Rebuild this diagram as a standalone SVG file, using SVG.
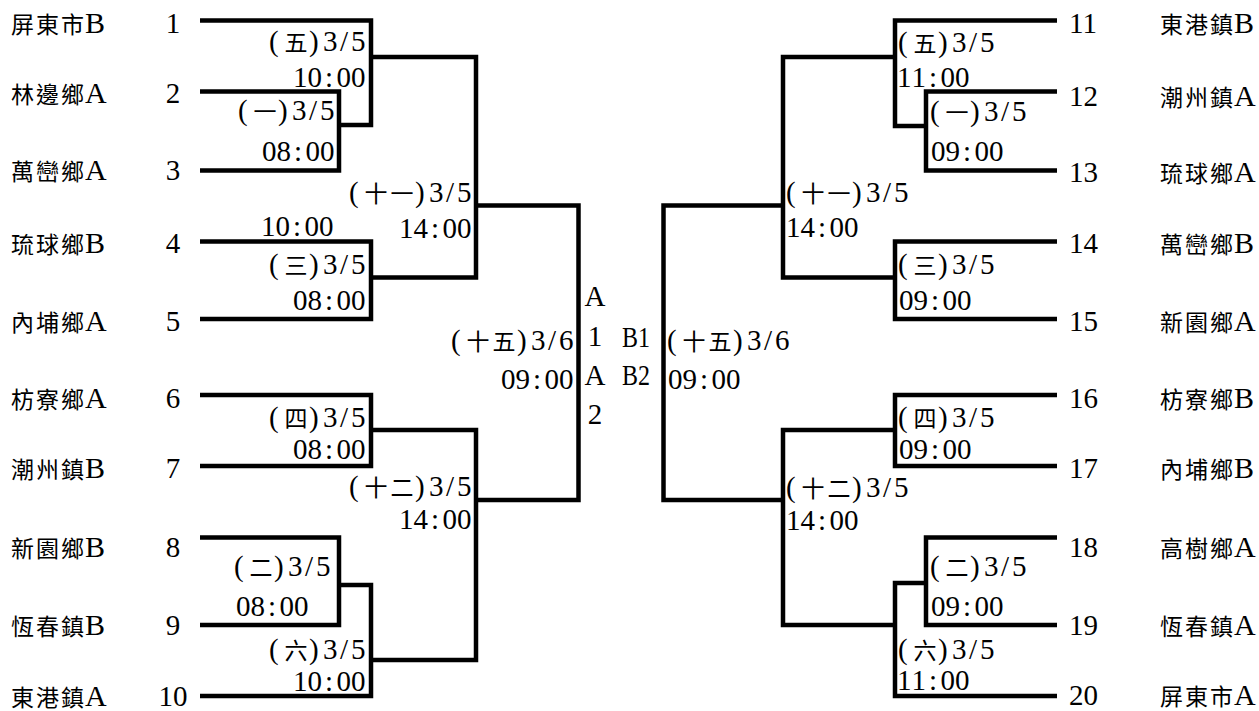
<svg xmlns="http://www.w3.org/2000/svg" width="1259" height="711" viewBox="0 0 1259 711">
<style>
.t{font-size:29px;fill:#000}
.c{font-size:23px}
.nm{font-size:23px;fill:#000}
.l{font-size:30px}
.mid{text-anchor:middle}
.ln{fill:none;stroke:#000;stroke-width:4.5;stroke-linejoin:miter;stroke-linecap:butt}
</style>
<rect width="1259" height="711" fill="#fff"/>
<g id="connectors" class="ln">
<path d="M200,20.5H371V125H339"/>
<path d="M200,91.5H339V170.5H200"/>
<path d="M200,241.5H371V319H200"/>
<path d="M200,395H371V466H200"/>
<path d="M200,537.5H339V625H200"/>
<path d="M200,696H371V585H339"/>
<path d="M371,57H476V277.5H371"/>
<path d="M371,430H476V660H371"/>
<path d="M476,205.5H578.5V500H476"/>
<path d="M1057,20.5H895V126H926"/>
<path d="M1057,91.5H926V170.5H1057"/>
<path d="M1057,241.5H895V319H1057"/>
<path d="M1057,395H895V466H1057"/>
<path d="M1057,537.5H926V625H1057"/>
<path d="M1057,696H895V583H926"/>
<path d="M895,57H783V277.5H895"/>
<path d="M895,430H783V625H895"/>
<path d="M783,205.5H663.5V500H783"/>
</g>
<g id="team1"><text class="nm" font-family="Noto Sans CJK TC" x="11 36 61 85" y="33">屏東市<tspan class="l" font-family="Liberation Serif">B</tspan></text><text class="t mid" font-family="Liberation Serif" x="173" y="33">1</text></g>
<g id="team2"><text class="nm" font-family="Noto Sans CJK TC" x="11 36 61 85" y="103">林邊鄉<tspan class="l" font-family="Liberation Serif">A</tspan></text><text class="t mid" font-family="Liberation Serif" x="173" y="103">2</text></g>
<g id="team3"><text class="nm" font-family="Noto Sans CJK TC" x="11 36 61 85" y="180">萬巒鄉<tspan class="l" font-family="Liberation Serif">A</tspan></text><text class="t mid" font-family="Liberation Serif" x="173" y="180">3</text></g>
<g id="team4"><text class="nm" font-family="Noto Sans CJK TC" x="11 36 61 85" y="253">琉球鄉<tspan class="l" font-family="Liberation Serif">B</tspan></text><text class="t mid" font-family="Liberation Serif" x="173" y="253">4</text></g>
<g id="team5"><text class="nm" font-family="Noto Sans CJK TC" x="11 36 61 85" y="331">內埔鄉<tspan class="l" font-family="Liberation Serif">A</tspan></text><text class="t mid" font-family="Liberation Serif" x="173" y="331">5</text></g>
<g id="team6"><text class="nm" font-family="Noto Sans CJK TC" x="11 36 61 85" y="408">枋寮鄉<tspan class="l" font-family="Liberation Serif">A</tspan></text><text class="t mid" font-family="Liberation Serif" x="173" y="408">6</text></g>
<g id="team7"><text class="nm" font-family="Noto Sans CJK TC" x="11 36 61 85" y="478">潮州鎮<tspan class="l" font-family="Liberation Serif">B</tspan></text><text class="t mid" font-family="Liberation Serif" x="173" y="478">7</text></g>
<g id="team8"><text class="nm" font-family="Noto Sans CJK TC" x="11 36 61 85" y="557">新園鄉<tspan class="l" font-family="Liberation Serif">B</tspan></text><text class="t mid" font-family="Liberation Serif" x="173" y="557">8</text></g>
<g id="team9"><text class="nm" font-family="Noto Sans CJK TC" x="11 36 61 85" y="635">恆春鎮<tspan class="l" font-family="Liberation Serif">B</tspan></text><text class="t mid" font-family="Liberation Serif" x="173" y="635">9</text></g>
<g id="team10"><text class="nm" font-family="Noto Sans CJK TC" x="11 36 61 85" y="706">東港鎮<tspan class="l" font-family="Liberation Serif">A</tspan></text><text class="t mid" font-family="Liberation Serif" x="173" y="706">10</text></g>
<g id="team11"><text class="t" font-family="Liberation Serif" x="1069" y="33">11</text><text class="nm" font-family="Noto Sans CJK TC" x="1160 1185 1210 1234" y="33">東港鎮<tspan class="l" font-family="Liberation Serif">B</tspan></text></g>
<g id="team12"><text class="t" font-family="Liberation Serif" x="1069" y="106">12</text><text class="nm" font-family="Noto Sans CJK TC" x="1160 1185 1210 1234" y="106">潮州鎮<tspan class="l" font-family="Liberation Serif">A</tspan></text></g>
<g id="team13"><text class="t" font-family="Liberation Serif" x="1069" y="182">13</text><text class="nm" font-family="Noto Sans CJK TC" x="1160 1185 1210 1234" y="182">琉球鄉<tspan class="l" font-family="Liberation Serif">A</tspan></text></g>
<g id="team14"><text class="t" font-family="Liberation Serif" x="1069" y="253">14</text><text class="nm" font-family="Noto Sans CJK TC" x="1160 1185 1210 1234" y="253">萬巒鄉<tspan class="l" font-family="Liberation Serif">B</tspan></text></g>
<g id="team15"><text class="t" font-family="Liberation Serif" x="1069" y="331">15</text><text class="nm" font-family="Noto Sans CJK TC" x="1160 1185 1210 1234" y="331">新園鄉<tspan class="l" font-family="Liberation Serif">A</tspan></text></g>
<g id="team16"><text class="t" font-family="Liberation Serif" x="1069" y="408">16</text><text class="nm" font-family="Noto Sans CJK TC" x="1160 1185 1210 1234" y="408">枋寮鄉<tspan class="l" font-family="Liberation Serif">B</tspan></text></g>
<g id="team17"><text class="t" font-family="Liberation Serif" x="1069" y="478">17</text><text class="nm" font-family="Noto Sans CJK TC" x="1160 1185 1210 1234" y="478">內埔鄉<tspan class="l" font-family="Liberation Serif">B</tspan></text></g>
<g id="team18"><text class="t" font-family="Liberation Serif" x="1069" y="557">18</text><text class="nm" font-family="Noto Sans CJK TC" x="1160 1185 1210 1234" y="557">高樹鄉<tspan class="l" font-family="Liberation Serif">A</tspan></text></g>
<g id="team19"><text class="t" font-family="Liberation Serif" x="1069" y="635">19</text><text class="nm" font-family="Noto Sans CJK TC" x="1160 1185 1210 1234" y="635">恆春鎮<tspan class="l" font-family="Liberation Serif">A</tspan></text></g>
<g id="team20"><text class="t" font-family="Liberation Serif" x="1069" y="705">20</text><text class="nm" font-family="Noto Sans CJK TC" x="1160 1185 1210 1234" y="705">屏東市<tspan class="l" font-family="Liberation Serif">A</tspan></text></g>
<g id="L5"><text class="t" font-family="Liberation Serif" x="269 284.5 309 323 340 351" y="51">(<tspan class="c" font-family="Noto Sans CJK TC">五</tspan>)3/5</text><text class="t" font-family="Liberation Serif" x="293 307.5 325 336.5 351" y="87">10:00</text></g>
<g id="L1"><text class="t" font-family="Liberation Serif" x="238 253.5 278 292 309 320" y="120">(<tspan class="c" font-family="Noto Sans CJK TC">一</tspan>)3/5</text><text class="t" font-family="Liberation Serif" x="262 276.5 294 305.5 320" y="161">08:00</text></g>
<g id="L11"><text class="t" font-family="Liberation Serif" x="349 364.5 390.5 415 429 446 457" y="202">(<tspan class="c" font-family="Noto Sans CJK TC">十一</tspan>)3/5</text><text class="t" font-family="Liberation Serif" x="399 413.5 431 442.5 457" y="238">14:00</text></g>
<g id="Lx"><text class="t" font-family="Liberation Serif" x="261 275.5 293 304.5 319" y="236">10:00</text></g>
<g id="L3"><text class="t" font-family="Liberation Serif" x="269 284.5 309 323 340 351" y="274">(<tspan class="c" font-family="Noto Sans CJK TC">三</tspan>)3/5</text><text class="t" font-family="Liberation Serif" x="293 307.5 325 336.5 351" y="310">08:00</text></g>
<g id="L4"><text class="t" font-family="Liberation Serif" x="269 284.5 309 323 340 351" y="427">(<tspan class="c" font-family="Noto Sans CJK TC">四</tspan>)3/5</text><text class="t" font-family="Liberation Serif" x="293 307.5 325 336.5 351" y="459">08:00</text></g>
<g id="L12"><text class="t" font-family="Liberation Serif" x="349 364.5 390.5 415 429 446 457" y="496">(<tspan class="c" font-family="Noto Sans CJK TC">十二</tspan>)3/5</text><text class="t" font-family="Liberation Serif" x="399 413.5 431 442.5 457" y="529">14:00</text></g>
<g id="L2"><text class="t" font-family="Liberation Serif" x="234 249.5 274 288 305 316" y="576">(<tspan class="c" font-family="Noto Sans CJK TC">二</tspan>)3/5</text><text class="t" font-family="Liberation Serif" x="236 250.5 268 279.5 294" y="616">08:00</text></g>
<g id="L6"><text class="t" font-family="Liberation Serif" x="269 284.5 309 323 340 351" y="659">(<tspan class="c" font-family="Noto Sans CJK TC">六</tspan>)3/5</text><text class="t" font-family="Liberation Serif" x="293 307.5 325 336.5 351" y="691">10:00</text></g>
<g id="L15"><text class="t" font-family="Liberation Serif" x="451 466.5 492.5 517 531 548 559" y="350">(<tspan class="c" font-family="Noto Sans CJK TC">十五</tspan>)3/6</text><text class="t" font-family="Liberation Serif" x="501 515.5 533 544.5 559" y="389">09:00</text></g>
<g id="final"><text class="t mid" font-family="Liberation Serif" x="595" y="306">A</text><text class="t mid" font-family="Liberation Serif" x="595" y="346">1</text><text class="t mid" font-family="Liberation Serif" x="595" y="385">A</text><text class="t mid" font-family="Liberation Serif" x="595" y="424">2</text><text class="t" font-family="Liberation Serif" x="622" y="347" textLength="28" lengthAdjust="spacingAndGlyphs">B1</text><text class="t" font-family="Liberation Serif" x="622" y="385" textLength="28" lengthAdjust="spacingAndGlyphs">B2</text></g>
<g id="R15"><text class="t" font-family="Liberation Serif" x="667 682.5 708.5 733 747 764 775" y="350">(<tspan class="c" font-family="Noto Sans CJK TC">十五</tspan>)3/6</text><text class="t" font-family="Liberation Serif" x="668 682.5 700 711.5 726" y="389">09:00</text></g>
<g id="R5"><text class="t" font-family="Liberation Serif" x="898 913.5 938 952 969 980" y="52">(<tspan class="c" font-family="Noto Sans CJK TC">五</tspan>)3/5</text><text class="t" font-family="Liberation Serif" x="897 911.5 929 940.5 955" y="87">11:00</text></g>
<g id="R1"><text class="t" font-family="Liberation Serif" x="930 945.5 970 984 1001 1012" y="121">(<tspan class="c" font-family="Noto Sans CJK TC">一</tspan>)3/5</text><text class="t" font-family="Liberation Serif" x="931 945.5 963 974.5 989" y="161">09:00</text></g>
<g id="R11"><text class="t" font-family="Liberation Serif" x="786 801.5 827.5 852 866 883 894" y="202">(<tspan class="c" font-family="Noto Sans CJK TC">十一</tspan>)3/5</text><text class="t" font-family="Liberation Serif" x="786 800.5 818 829.5 844" y="237">14:00</text></g>
<g id="R3"><text class="t" font-family="Liberation Serif" x="898 913.5 938 952 969 980" y="274">(<tspan class="c" font-family="Noto Sans CJK TC">三</tspan>)3/5</text><text class="t" font-family="Liberation Serif" x="899 913.5 931 942.5 957" y="310">09:00</text></g>
<g id="R4"><text class="t" font-family="Liberation Serif" x="898 913.5 938 952 969 980" y="427">(<tspan class="c" font-family="Noto Sans CJK TC">四</tspan>)3/5</text><text class="t" font-family="Liberation Serif" x="899 913.5 931 942.5 957" y="459">09:00</text></g>
<g id="R12"><text class="t" font-family="Liberation Serif" x="786 801.5 827.5 852 866 883 894" y="497">(<tspan class="c" font-family="Noto Sans CJK TC">十二</tspan>)3/5</text><text class="t" font-family="Liberation Serif" x="786 800.5 818 829.5 844" y="530">14:00</text></g>
<g id="R2"><text class="t" font-family="Liberation Serif" x="930 945.5 970 984 1001 1012" y="576">(<tspan class="c" font-family="Noto Sans CJK TC">二</tspan>)3/5</text><text class="t" font-family="Liberation Serif" x="931 945.5 963 974.5 989" y="616">09:00</text></g>
<g id="R6"><text class="t" font-family="Liberation Serif" x="898 913.5 938 952 969 980" y="659">(<tspan class="c" font-family="Noto Sans CJK TC">六</tspan>)3/5</text><text class="t" font-family="Liberation Serif" x="897 911.5 929 940.5 955" y="690">11:00</text></g>
</svg>
